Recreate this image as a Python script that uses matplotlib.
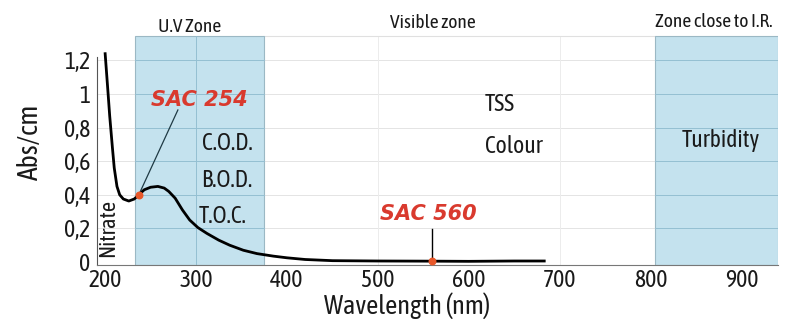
import matplotlib.pyplot as plt
from matplotlib.patches import Rectangle

# absorbance spectrum
wavelength = [200, 203, 205, 208, 210, 213, 216, 220, 226, 232, 237, 243, 250, 258,
              265, 270, 277, 285, 293, 302, 312, 325, 337, 352, 367, 385, 400,
              420, 450, 500, 560, 600, 650, 683]
absorbance = [1.24, 1.02, 0.87, 0.68, 0.56, 0.45, 0.40, 0.375, 0.363, 0.375, 0.40, 0.43,
              0.445, 0.45, 0.44, 0.42, 0.38, 0.31, 0.25, 0.205, 0.17, 0.13, 0.10, 0.07,
              0.05, 0.035, 0.025, 0.015, 0.008, 0.006, 0.005, 0.004, 0.006, 0.006]

uv_zone = (233, 375)
ir_zone = (805, 940)
zone_top = 1.345

sac254 = (237, 0.40)
sac560 = (560, 0.005)

x_ticks = [200, 300, 400, 500, 600, 700, 800, 900]
y_ticks = [0, 0.2, 0.4, 0.6, 0.8, 1.0, 1.2]
y_labels = ['0', '0,2', '0,4', '0,6', '0,8', '1', '1,2']

plt.rcParams['font.family'] = ['Asap Condensed', 'DejaVu Sans']

blue = '#c4e2ee'
blue_line = '#94bfd2'
red = '#d93a2e'
ink = '#1a1a1a'

fig = plt.figure(figsize=(7.89, 3.24), dpi=100)
ax = fig.add_axes([0.1229, 0.182, 0.863, 0.7145])
ax.set_xlim(191, 940)
ax.set_ylim(-0.018, 1.36)

# faint background grid
for y in y_ticks[1:]:
    ax.plot([191, 940], [y, y], color='#e4e4e4', lw=0.7, zorder=0)
for x in [300, 500, 700]:
    ax.plot([x, x], [-0.018, zone_top], color='#ececec', lw=0.7, zorder=0)
ax.plot([uv_zone[1], ir_zone[0]], [zone_top, zone_top], color='#e0e0e0', lw=0.8, zorder=0)

# shaded zones
for x0, x1 in [uv_zone, ir_zone]:
    ax.add_patch(Rectangle((x0, -0.018), x1 - x0, zone_top + 0.018,
                           facecolor=blue, edgecolor='#9bb8c4', lw=0.8, zorder=1))
    for y in y_ticks[1:]:
        ax.plot([x0, x1], [y, y], color=blue_line, lw=0.7, zorder=1.5)
ax.plot([300, 300], [-0.018, zone_top], color=blue_line, lw=0.7, zorder=1.5)

ax.plot(wavelength, absorbance, color='black', lw=2, zorder=3)

# SAC markers
ax.plot([sac254[0], 280], [sac254[1], 0.905], color='#1f3a44', lw=0.9, zorder=2.5)
ax.plot([sac560[0], sac560[0]], [sac560[1], 0.195], color='black', lw=1.0, zorder=2.5)
ax.scatter([sac254[0], sac560[0]], [sac254[1], sac560[1]], s=22, color='#e8582a', zorder=4)
sac = dict(color=red, fontsize=15, fontweight='bold', fontstyle='italic',
           family='DejaVu Sans', ha='center', va='center', zorder=5)
ax.text(304, 0.964, 'SAC 254', **sac)
ax.text(556, 0.286, 'SAC 560', **sac)

# zone contents
inner = dict(fontsize=17, ha='center', va='center', color=ink, zorder=5)
ax.text(334, 0.708, 'C.O.D.', **inner)
ax.text(334, 0.488, 'B.O.D.', **inner)
ax.text(329, 0.268, 'T.O.C.', **inner)
ax.text(618, 0.935, 'TSS', fontsize=17, ha='left', va='center', color=ink)
ax.text(618, 0.69, 'Colour', fontsize=17, ha='left', va='center', color=ink)
ax.text(877, 0.726, 'Turbidity', **inner)
ax.text(203, 0.2, 'Nitrate', fontsize=16, rotation=90, ha='center', va='center',
        color=ink, zorder=5)

# zone headers
head = dict(fontsize=14, ha='center', va='center', color=ink, clip_on=False)
ax.text(293, 1.40, 'U.V Zone', **head)
ax.text(561, 1.42, 'Visible zone', **head)
ax.text(869, 1.43, 'Zone close to I.R.', **head)

ax.set_xticks(x_ticks)
ax.set_xticklabels([str(v) for v in x_ticks])
ax.set_yticks(y_ticks)
ax.set_yticklabels(y_labels)
ax.tick_params(length=0, labelsize=17, colors=ink)
ax.tick_params(axis='x', pad=3)
ax.tick_params(axis='y', pad=5)

for side in ['top', 'right']:
    ax.spines[side].set_visible(False)
ax.spines['left'].set_bounds(-0.018, 1.22)
ax.spines['left'].set_color('#555555')
ax.spines['bottom'].set_color('#777777')
ax.spines['left'].set_linewidth(0.8)
ax.spines['bottom'].set_linewidth(0.8)

fig.text(407 / 789, 1 - 306 / 324, 'Wavelength (nm)', fontsize=19, ha='center', va='center', color=ink)
fig.text(30 / 789, 1 - 142 / 324, 'Abs/cm', fontsize=20, rotation=90, ha='center', va='center', color=ink)

fig.savefig('out.png', dpi=100)
